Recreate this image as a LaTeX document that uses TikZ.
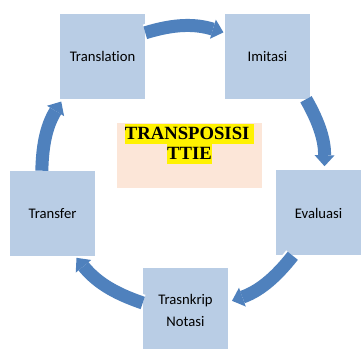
\documentclass[tikz,border=0pt]{standalone}
\usepackage{fontspec}
\setmainfont{Carlito}[Ligatures=NoCommon]
\newfontfamily\titlefont{Liberation Serif}
\usetikzlibrary{arrows.meta,positioning}
\definecolor{boxblue}{HTML}{B9CDE5}
\definecolor{arrowblue}{HTML}{4F81BD}
\definecolor{peach}{HTML}{FCE6D8}
\newcommand{\hlbox}[1]{{\setlength{\fboxsep}{0pt}\colorbox{yellow}{\rule[-3.75pt]{0pt}{15pt}#1}}}
\tikzset{
  stagebox/.style={rectangle, fill=boxblue, minimum width=63.75pt,
                   minimum height=63.75pt, align=center, inner sep=0pt,
                   font=\fontsize{11}{17}\selectfont, text=black},
  centrebox/.style={rectangle, fill=peach, minimum width=108.75pt,
                    minimum height=48.75pt, inner sep=0pt},
  titletext/.style={align=center, inner sep=0pt,
                    font=\titlefont\bfseries\fontsize{14}{15}\selectfont},
  % SmartArt-like cycle arrows
  cyclearrow/.style={draw=arrowblue, line width=9.75pt,
                     -{Triangle[width=15pt,length=8.25pt,line width=0pt]},
                     preaction={draw=white, line width=12.75pt,
                     -{Triangle[width=18pt,length=10pt,line width=0pt]}}},
}
\begin{document}
\begin{tikzpicture}[x=0.75pt, y=0.75pt]
    \clip (0,0) rectangle (361,349);
    \node[stagebox] (trans) at (102.5,292.5) {Translation};
    \node[stagebox] (imit) at (267.5,292.5) {Imitasi};
    \node[stagebox] (eval) at (318.5,136) {Evaluasi};
    \node[stagebox] (trnk) at (185.5,38.5) {Trasnkrip\\Notasi};
    \node[stagebox] (trf) at (52.5,135.5) {Transfer};
    \node[centrebox] (mid) at (189.5,193.5) {};
    \node[titletext, below=1pt of mid.north] (title) {\hlbox{TRANSPOSISI\ }\\\hlbox{TTIE}};
    \draw[cyclearrow, shorten >=1pt] (trans.29) to[bend left=17] (imit.151);
    \draw[cyclearrow, shorten >=3pt] (imit.-48) to[bend left=15] (eval.82);
    \draw[cyclearrow, shorten >=3pt] (eval.239) to[bend left=16] (trnk.11);
    \draw[cyclearrow, shorten >=1.5pt] (trnk.170) to[bend left=16] (trf.298);
    \draw[cyclearrow, shorten >=2pt] (trf.104) to[bend left=15] (trans.227);
\end{tikzpicture}
\end{document}
